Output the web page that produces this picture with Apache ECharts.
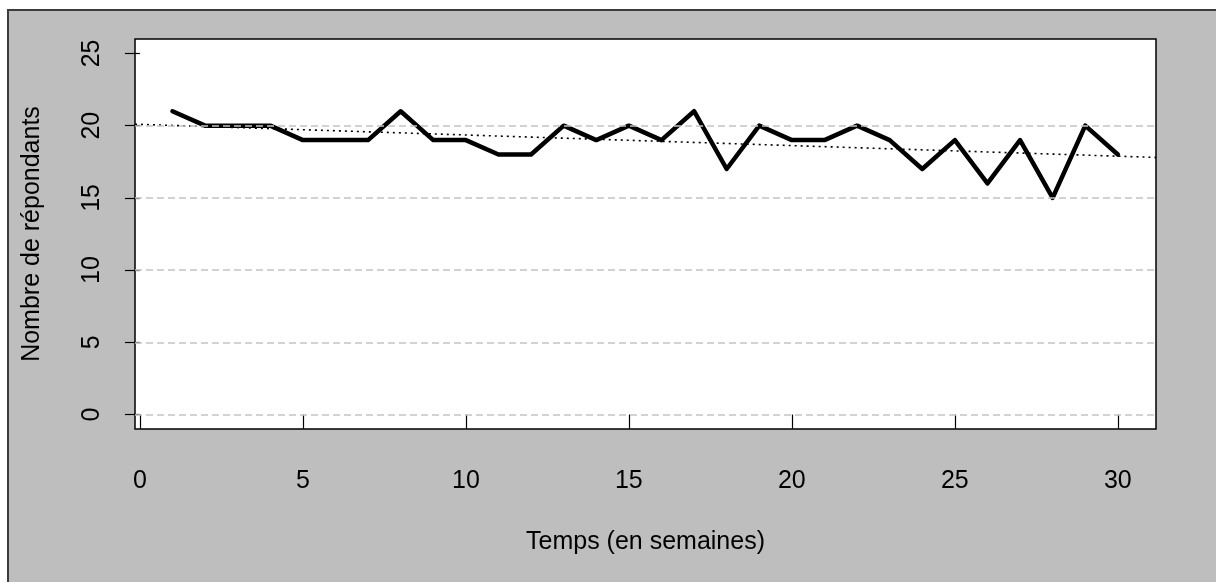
<!DOCTYPE html>
<html>
<head>
<meta charset="utf-8">
<script src="https://cdn.jsdelivr.net/npm/echarts@6/dist/echarts.min.js"></script>
<style>
  html, body { margin: 0; padding: 0; background: #ffffff; overflow: hidden; }
  .frame {
    position: absolute; left: 7px; top: 9px; width: 1300px; height: 700px;
    background: #bebebe; border-left: 2px solid #3c3c3c; border-top: 2px solid #3c3c3c;
  }
  .charts { position: absolute; left: 0; top: 0; width: 1216px; height: 582px; }
</style>
</head>
<body>
<div class="frame"></div>
<div class="charts" id="chart"></div>
<script>
// semaines et nombre de répondants
const weeks = [1, 2, 3, 4, 5, 6, 7, 8, 9, 10, 11, 12, 13, 14, 15,
  16, 17, 18, 19, 20, 21, 22, 23, 24, 25, 26, 27, 28, 29, 30];
const responses = [21, 20, 20, 20, 19, 19, 19, 21, 19, 19, 18, 18, 20, 19, 20,
  19, 21, 17, 20, 19, 19, 20, 19, 17, 19, 16, 19, 15, 20, 18];
// droite de tendance (lue aux bords du graphique)
const trendX = [-0.15, 31.17];
const trendY = [20.1, 17.8];
// graduations
const xTicks = [0, 5, 10, 15, 20, 25, 30];
const yTicks = [0, 5, 10, 15, 20, 25];
const gridValues = [0, 5, 10, 15, 20];

const font = "'Liberation Sans', Arial, sans-serif";

const myChart = echarts.init(document.getElementById("chart"));
const option = {
  animation: false,
  backgroundColor: "transparent",
  grid: {
    left: 135,
    right: 60,
    top: 39,
    bottom: 153,
    show: true,
    backgroundColor: "#ffffff",
    borderColor: "#000000",
    borderWidth: 1.5,
  },
  xAxis: {
    type: "value",
    min: -0.15,
    max: 31.17,
    name: "Temps (en semaines)",
    nameLocation: "middle",
    nameGap: 101,
    nameTextStyle: { color: "#000", fontSize: 25, fontFamily: font },
    axisLine: { show: false },
    splitLine: { show: false },
    axisTick: {
      show: true,
      length: 14,
      customValues: xTicks,
      lineStyle: { color: "#000", width: 1.2 },
    },
    axisLabel: {
      customValues: xTicks,
      margin: 40,
      color: "#000",
      fontSize: 25,
      fontFamily: font,
    },
  },
  yAxis: {
    type: "value",
    min: -1,
    max: 26,
    name: "Nombre de répondants",
    nameLocation: "middle",
    nameGap: 90,
    nameTextStyle: { color: "#000", fontSize: 25, fontFamily: font },
    axisLine: { show: false },
    splitLine: { show: false },
    axisTick: {
      show: true,
      length: 15,
      customValues: yTicks,
      lineStyle: { color: "#000", width: 1.2 },
    },
    axisLabel: {
      customValues: yTicks,
      rotate: 90,
      margin: 30,
      color: "#000",
      fontSize: 25,
      fontFamily: font,
    },
  },
  series: [
    {
      name: "grille",
      type: "line",
      z: 1,
      data: [],
      markLine: {
        silent: true,
        symbol: "none",
        label: { show: false },
        lineStyle: { color: "#c4c4c4", type: [7, 4], width: 1.5 },
        data: gridValues.map((v) => ({ yAxis: v })),
      },
    },
    {
      name: "tendance",
      type: "line",
      z: 2,
      showSymbol: false,
      data: trendX.map((x, i) => [x, trendY[i]]),
      lineStyle: { color: "#000", width: 1.6, type: [2, 4] },
    },
    {
      name: "répondants",
      type: "line",
      z: 3,
      showSymbol: false,
      data: weeks.map((w, i) => [w, responses[i]]),
      lineStyle: { color: "#000", width: 4.5, cap: "round", join: "round" },
    },
  ],
};
myChart.setOption(option);
</script>
</body>
</html>
